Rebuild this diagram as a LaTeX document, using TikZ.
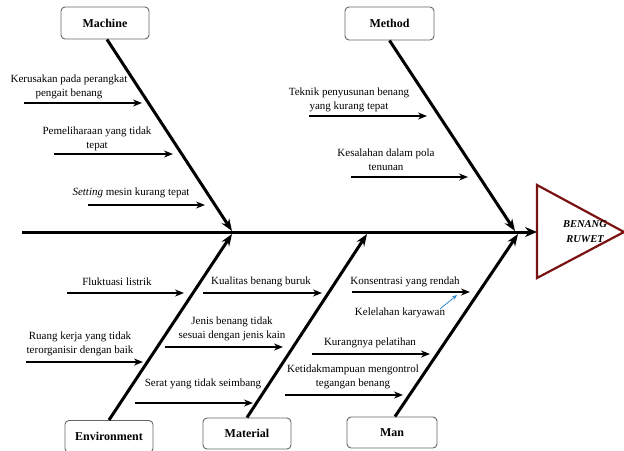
\documentclass[tikz,border=0pt]{standalone}
\usepackage{fontspec}
\setmainfont{Liberation Serif}
\usetikzlibrary{arrows.meta}
\definecolor{darkred}{HTML}{7B1212}
\definecolor{boxgray}{HTML}{666666}
\definecolor{blueline}{HTML}{2A86C8}
\tikzset{
  catbox/.style={draw=boxgray, line width=0.9pt, rounded corners=4pt, minimum width=88pt, minimum height=32pt, font=\fontsize{12}{14}\selectfont\bfseries, inner sep=0pt},
  bone/.style={line width=3pt, -{Stealth[length=12pt,width=9pt]}},
  spine/.style={line width=3pt, -{Stealth[length=12pt,width=10pt]}},
  cause/.style={line width=1.6pt, -{Stealth[length=9pt,width=7pt]}},
  ctext/.style={font=\fontsize{11}{14}\selectfont, align=center, inner sep=0pt},
  hint/.style={line width=0.8pt, blueline, -{Stealth[length=5pt,width=4pt]}}
}
\begin{document}
\begin{tikzpicture}[x=1pt,y=-1pt]
\useasboundingbox (0,0) rectangle (624,450);
% effect triangle
\coordinate (tA) at (537,185);
\coordinate (tB) at (537,278);
\coordinate (tC) at (624,232);
\draw[darkred, line width=2.2pt, line join=miter] (tA) -- (tC) -- (tB) -- cycle;
\coordinate (head) at (537,232);
\node[font=\fontsize{10.5}{15}\selectfont\bfseries\itshape, align=center, inner sep=0pt] (effect) at (585,232) {BENANG\\RUWET};
% spine
\coordinate (tail) at (22,232);
\draw[spine] (tail) -- (head);
% category boxes
\node[catbox] (machine) at (105,23) {Machine};
\node[catbox, minimum width=89pt, minimum height=33pt] (method) at (389.5,23.5) {Method};
\node[catbox] (environment) at (109,436.5) {Environment};
\node[catbox, minimum height=31pt] (material) at (247,433.5) {Material};
\node[catbox, minimum width=90pt, minimum height=31pt] (man) at (392,432.5) {Man};
% bone ends on spine
\coordinate (jM) at (232,231);
\coordinate (jMe) at (515,231);
\coordinate (jE) at (232,234);
\coordinate (jMa) at (367,234);
\coordinate (jMn) at (518,234);
\draw[bone] (machine.south) ++(2,0) -- (jM);
\draw[bone] (method.south) -- (jMe);
\draw[bone] (environment.north) -- (jE);
\draw[bone] (material.north) -- (jMa);
\draw[bone] (man.north) ++(3,0) -- (jMn);
% Machine causes
\node[ctext] (c1) at (69,87) {Kerusakan pada perangkat\\pengait benang};
\coordinate (c1a) at (24,103); \coordinate (c1b) at (142,103);
\draw[cause] (c1a) -- (c1b);
\node[ctext] (c2) at (97,138.5) {Pemeliharaan yang tidak\\tepat};
\coordinate (c2a) at (54,154); \coordinate (c2b) at (173,154);
\draw[cause] (c2a) -- (c2b);
\node[ctext] (c3) at (131,193) {\textit{Setting} mesin kurang tepat};
\coordinate (c3a) at (88,205); \coordinate (c3b) at (205,205);
\draw[cause] (c3a) -- (c3b);
% Method causes
\node[ctext] (c4) at (349,99.5) {Teknik penyusunan benang\\yang kurang tepat};
\coordinate (c4a) at (309,116); \coordinate (c4b) at (427,116);
\draw[cause] (c4a) -- (c4b);
\node[ctext] (c5) at (386,160) {Kesalahan dalam pola\\tenunan};
\coordinate (c5a) at (351,177); \coordinate (c5b) at (468,177);
\draw[cause] (c5a) -- (c5b);
% Environment causes
\node[ctext] (c6) at (117,282) {Fluktuasi listrik};
\coordinate (c6a) at (67,293); \coordinate (c6b) at (184,293);
\draw[cause] (c6a) -- (c6b);
\node[ctext] (c7) at (80,343.5) {Ruang kerja yang tidak\\terorganisir dengan baik};
\coordinate (c7a) at (26,362); \coordinate (c7b) at (143,362);
\draw[cause] (c7a) -- (c7b);
% Material causes
\node[ctext] (c8) at (261,282) {Kualitas benang buruk};
\coordinate (c8a) at (203,293); \coordinate (c8b) at (322,293);
\draw[cause] (c8a) -- (c8b);
\node[ctext] (c9) at (232,328.5) {Jenis benang tidak\\sesuai dengan jenis kain};
\coordinate (c9a) at (165,347); \coordinate (c9b) at (283,347);
\draw[cause] (c9a) -- (c9b);
\node[ctext] (c10) at (203,384) {Serat yang tidak seimbang};
\coordinate (c10a) at (135,403); \coordinate (c10b) at (253,403);
\draw[cause] (c10a) -- (c10b);
% Man causes
\node[ctext] (c11) at (405,282) {Konsentrasi yang rendah};
\coordinate (c11a) at (352,292); \coordinate (c11b) at (470,292);
\draw[cause] (c11a) -- (c11b);
\node[ctext] (c12) at (400,313) {Kelelahan karyawan};
\coordinate (c12a) at (440,309); \coordinate (c12b) at (457,295);
\draw[hint] (c12a) -- (c12b);
\node[ctext] (c13) at (370,343) {Kurangnya pelatihan};
\coordinate (c13a) at (312,354); \coordinate (c13b) at (430,354);
\draw[cause] (c13a) -- (c13b);
\node[ctext] (c14) at (353,377) {Ketidakmampuan mengontrol\\tegangan benang};
\coordinate (c14a) at (285,395); \coordinate (c14b) at (403,395);
\draw[cause] (c14a) -- (c14b);
\end{tikzpicture}
\end{document}
